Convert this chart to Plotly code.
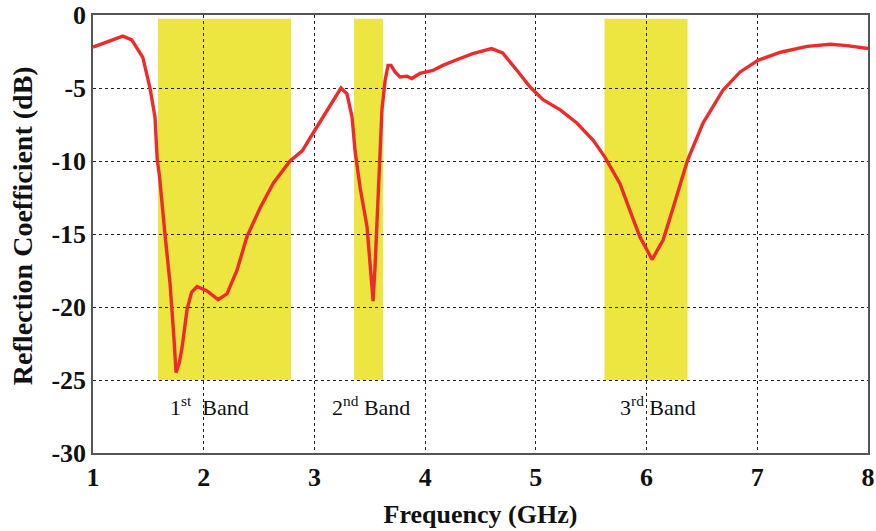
import plotly.graph_objects as go

# Measured reflection coefficient (S11) of the antenna
freq_ghz = [1.00, 1.10, 1.20, 1.27, 1.35, 1.45, 1.515, 1.56, 1.58, 1.60, 1.65, 1.696,
            1.73, 1.75, 1.78, 1.804, 1.849, 1.89, 1.94, 2.03, 2.13, 2.21, 2.30, 2.39,
            2.51, 2.63, 2.78, 2.89, 2.987, 3.077, 3.168, 3.24, 3.294, 3.34, 3.367,
            3.412, 3.475, 3.50, 3.53, 3.547, 3.565, 3.593, 3.61, 3.638, 3.665, 3.692,
            3.728, 3.773, 3.836, 3.88, 3.954, 4.07, 4.16, 4.29, 4.43, 4.60, 4.70,
            4.83, 4.95, 5.065, 5.22, 5.37, 5.52, 5.625, 5.76, 5.85, 5.94, 6.05, 6.15,
            6.24, 6.37, 6.51, 6.69, 6.845, 7.007, 7.21, 7.45, 7.66, 7.81, 8.00]
s11_db = [-2.2, -1.9, -1.6, -1.45, -1.7, -2.9, -5.0, -7.0, -9.9, -11.0, -15.0, -18.4,
          -22.0, -24.5, -23.8, -22.8, -20.2, -19.0, -18.6, -18.9, -19.5, -19.1, -17.5, -15.2,
          -13.2, -11.5, -10.0, -9.3, -8.1, -7.0, -5.85, -5.0, -5.4, -7.0, -9.3,
          -11.8, -14.5, -16.8, -19.6, -17.3, -13.9, -9.95, -6.5, -4.5, -3.45, -3.45,
          -3.9, -4.25, -4.2, -4.35, -4.0, -3.8, -3.45, -3.05, -2.65, -2.3, -2.6,
          -3.8, -4.95, -5.8, -6.5, -7.4, -8.6, -9.75, -11.55, -13.4, -15.2, -16.75, -15.4,
          -13.2, -9.95, -7.4, -5.15, -3.9, -3.1, -2.55, -2.15, -2.0, -2.1, -2.3]

# Operating bands
band_start = [1.587, 3.358, 5.62]
band_end = [2.789, 3.62, 6.37]
band_top = -0.25
band_bottom = -25
band_labels = ["1<sup>st</sup>  Band", "2<sup>nd</sup> Band", "3<sup>rd</sup> Band"]
band_label_x = [2.05, 3.51, 6.1]
band_label_y = -26.8

x_ticks = [1, 2, 3, 4, 5, 6, 7, 8]
y_ticks = [0, -5, -10, -15, -20, -25, -30]

fig = go.Figure()

for x0, x1 in zip(band_start, band_end):
    fig.add_shape(type="rect", xref="x", yref="y", x0=x0, x1=x1,
                  y0=band_bottom, y1=band_top, fillcolor="#EDE640",
                  line=dict(width=0), layer="below")

fig.add_trace(go.Scatter(x=freq_ghz, y=s11_db, mode="lines",
                         line=dict(color="#EE2B2B", width=3.4),
                         showlegend=False, hoverinfo="skip"))

for txt, xl in zip(band_labels, band_label_x):
    fig.add_annotation(x=xl, y=band_label_y, xref="x", yref="y", text=txt,
                       showarrow=False,
                       font=dict(family="Liberation Serif", size=22, color="#111"))

# y-axis title placed as a rotated annotation close to the page edge
fig.add_annotation(x=-0.0916, y=0.518, xref="paper", yref="paper",
                   text="Reflection Coefficient (dB)", textangle=-90, showarrow=False,
                   xanchor="center", yanchor="middle",
                   font=dict(family="Liberation Serif", size=28, color="#111",
                             weight="bold"))

tick_font = dict(family="Liberation Serif", size=26, color="#111", weight="bold")
fig.update_xaxes(range=[1, 8], tickvals=x_ticks, ticktext=[str(v) for v in x_ticks],
                 showgrid=True, gridcolor="#222", griddash="3px,3px", gridwidth=1,
                 showline=True, linecolor="#555", linewidth=1.5, mirror=True,
                 ticks="", zeroline=False, tickfont=tick_font, automargin=False,
                 title=dict(text="Frequency (GHz)", standoff=14,
                            font=dict(family="Liberation Serif", size=26, color="#111",
                                      weight="bold")))
fig.update_yaxes(range=[-30, 0], tickvals=y_ticks, ticktext=[str(v) for v in y_ticks],
                 showgrid=True, gridcolor="#222", griddash="3px,3px", gridwidth=1,
                 showline=True, linecolor="#555", linewidth=1.5, mirror=True,
                 ticks="", zeroline=False, tickfont=tick_font, automargin=False)

fig.update_layout(width=876, height=531, margin=dict(l=93, r=8, t=15, b=78),
                  plot_bgcolor="white", paper_bgcolor="white",
                  font=dict(family="Liberation Serif", color="#111"))

fig.write_html("out.html")
